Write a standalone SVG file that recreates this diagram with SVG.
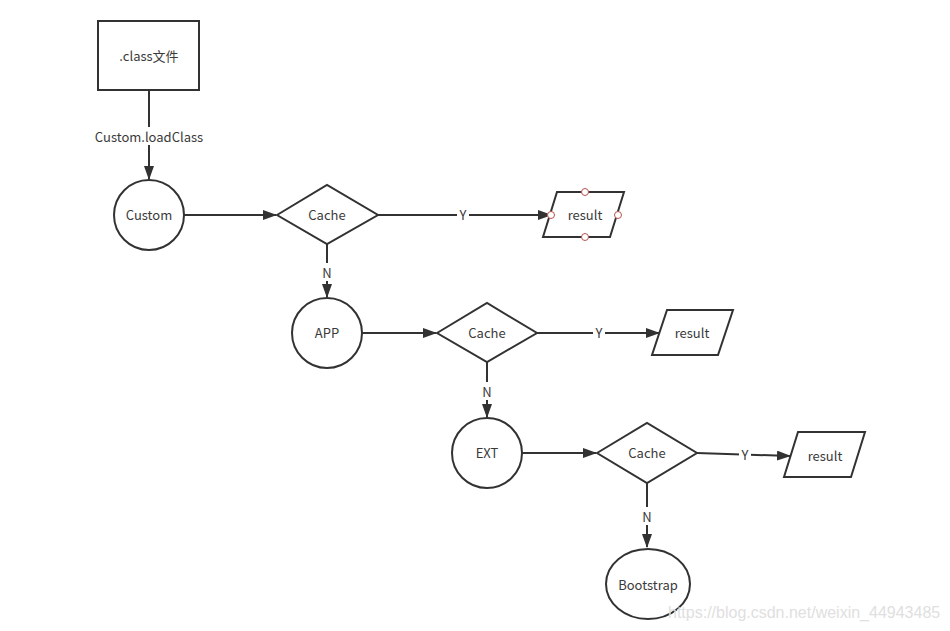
<svg xmlns="http://www.w3.org/2000/svg" width="950" height="631" viewBox="0 0 950 631">
<style>
.s{fill:#fff;stroke:#323232;stroke-width:2}
.t{font-family:"Noto Sans CJK SC","Open Sans",sans-serif;font-size:13px;fill:#3a3a3a;text-anchor:middle;dominant-baseline:central}
.c{fill:none;stroke:#323232;stroke-width:2}
.lb{fill:#fff}
.p{fill:#fff;stroke:#b85450;stroke-width:1}
</style>
<defs>
<marker id="a" markerWidth="14" markerHeight="10" refX="13" refY="5" orient="auto" markerUnits="userSpaceOnUse">
<path d="M0,0 L14,5 L0,10 Z" fill="#323232"/>
</marker>
</defs>
<rect width="950" height="631" fill="#fff"/>
<g id="connectors">
<line class="c" x1="149" y1="90" x2="149" y2="179" marker-end="url(#a)"/>
<rect class="lb" x="93" y="127" width="112" height="18"/>
<text class="t" x="149" y="136">Custom.loadClass</text>
<line class="c" x1="184" y1="215" x2="276" y2="215" marker-end="url(#a)"/>
<line class="c" x1="378" y1="215" x2="551" y2="215" marker-end="url(#a)"/>
<rect class="lb" x="457" y="205" width="12" height="18"/>
<text class="t" x="463" y="214">Y</text>
<line class="c" x1="327" y1="244" x2="327" y2="297" marker-end="url(#a)"/>
<rect class="lb" x="321" y="263" width="12" height="18"/>
<text class="t" x="327" y="272">N</text>
<line class="c" x1="362" y1="333" x2="436" y2="333" marker-end="url(#a)"/>
<line class="c" x1="537" y1="333" x2="659" y2="333" marker-end="url(#a)"/>
<rect class="lb" x="593" y="323" width="12" height="18"/>
<text class="t" x="599" y="332">Y</text>
<line class="c" x1="487" y1="362" x2="487" y2="417" marker-end="url(#a)"/>
<rect class="lb" x="481" y="382" width="12" height="18"/>
<text class="t" x="487" y="391">N</text>
<line class="c" x1="522" y1="453" x2="596" y2="453" marker-end="url(#a)"/>
<line class="c" x1="697" y1="453" x2="790" y2="456" marker-end="url(#a)"/>
<rect class="lb" x="739" y="445" width="12" height="18"/>
<text class="t" x="745" y="454">Y</text>
<line class="c" x1="647" y1="483" x2="647" y2="547" marker-end="url(#a)"/>
<rect class="lb" x="641" y="507" width="12" height="18"/>
<text class="t" x="647" y="516">N</text>
</g>
<g id="classfile">
<rect class="s" x="98" y="21" width="101" height="69"/>
<text class="t" x="149" y="55">.class文件</text>
</g>
<g id="custom">
<circle class="s" cx="149" cy="215" r="35"/>
<text class="t" x="149" y="214">Custom</text>
</g>
<g id="cache1">
<path class="s" d="M277,215 L327,185 L378,215 L327,244 Z"/>
<text class="t" x="327" y="214">Cache</text>
</g>
<g id="result1">
<path class="s" d="M557,192 L624,192 L610,237 L543,237 Z"/>
<text class="t" x="585" y="214">result</text>
<circle class="p" cx="585" cy="192" r="3.5"/>
<circle class="p" cx="618" cy="215" r="3.5"/>
<circle class="p" cx="585" cy="237" r="3.5"/>
<circle class="p" cx="551" cy="215" r="3.5"/>
</g>
<g id="app">
<circle class="s" cx="327" cy="333" r="35"/>
<text class="t" x="327" y="332">APP</text>
</g>
<g id="cache2">
<path class="s" d="M437,333 L487,303 L537,333 L487,362 Z"/>
<text class="t" x="487" y="332">Cache</text>
</g>
<g id="result2">
<path class="s" d="M667,310 L733,310 L718,355 L652,355 Z"/>
<text class="t" x="692" y="332">result</text>
</g>
<g id="ext">
<circle class="s" cx="487" cy="453" r="35"/>
<text class="t" x="487" y="452">EXT</text>
</g>
<g id="cache3">
<path class="s" d="M597,453 L647,423 L697,453 L647,483 Z"/>
<text class="t" x="647" y="452">Cache</text>
</g>
<g id="result3">
<path class="s" d="M798,432 L865,432 L851,477 L784,477 Z"/>
<text class="t" x="825" y="455">result</text>
</g>
<g id="bootstrap">
<ellipse class="s" cx="648" cy="584" rx="42" ry="35"/>
<text class="t" x="648" y="584">Bootstrap</text>
</g>
<text x="668" y="618" font-family="Liberation Sans,Arial,sans-serif" font-size="16" fill="#e0e0e0">https://blog.csdn.net/weixin_44943485</text>
</svg>
